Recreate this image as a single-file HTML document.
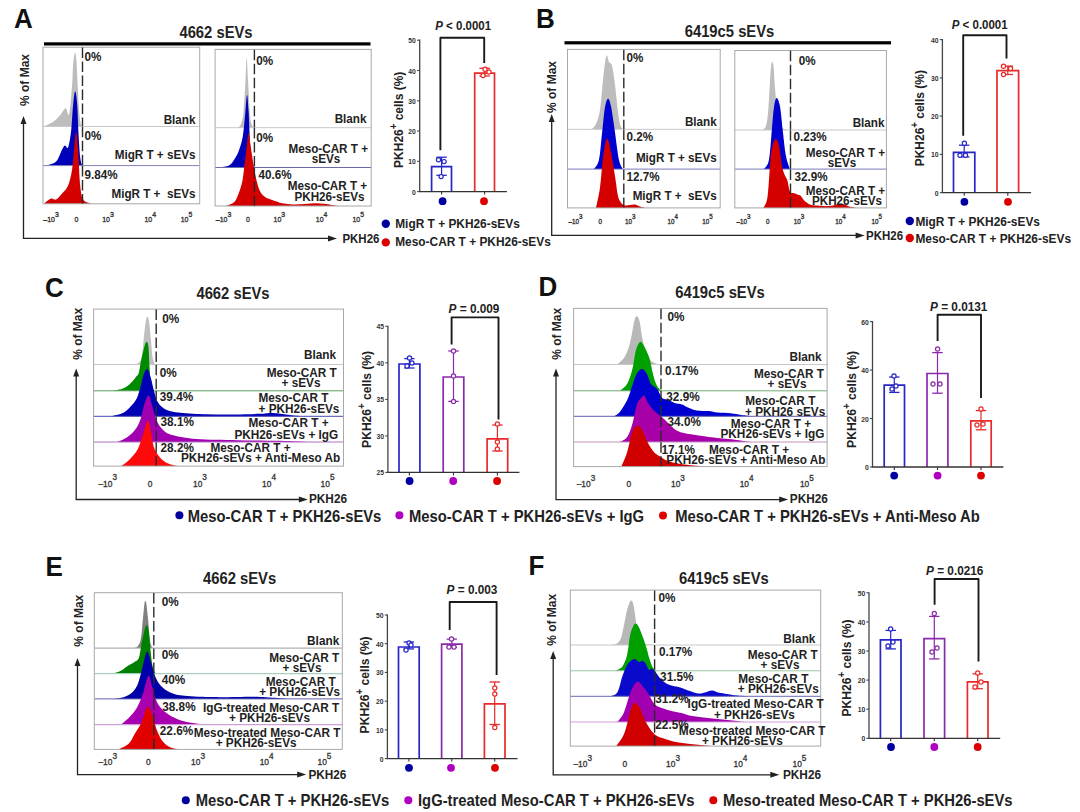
<!DOCTYPE html>
<html><head><meta charset="utf-8"><title>Figure</title>
<style>html,body{margin:0;padding:0;background:#fff;}svg{display:block;}text{font-family:"Liberation Sans", sans-serif;}</style>
</head><body>
<svg width="1080" height="812" viewBox="0 0 1080 812">
<rect width="1080" height="812" fill="#fff"/>
<text transform="translate(14 27.6) scale(1 1.08)" font-size="26" text-anchor="start" font-weight="bold" fill="#111">A</text>
<text transform="translate(536 27.8) scale(1 1.08)" font-size="26" text-anchor="start" font-weight="bold" fill="#111">B</text>
<text transform="translate(45 297.4) scale(1 1.08)" font-size="26" text-anchor="start" font-weight="bold" fill="#111">C</text>
<text transform="translate(538.5 296.4) scale(1 1.08)" font-size="26" text-anchor="start" font-weight="bold" fill="#111">D</text>
<text transform="translate(45.5 575.5) scale(1 1.08)" font-size="26" text-anchor="start" font-weight="bold" fill="#111">E</text>
<text transform="translate(528.5 575.3) scale(1 1.08)" font-size="26" text-anchor="start" font-weight="bold" fill="#111">F</text>
<text transform="translate(216 38.1) scale(1 1.08)" font-size="14.8" text-anchor="middle" font-weight="bold" fill="#222">4662 sEVs</text>
<rect x="44" y="42.3" width="326.5" height="3.2" fill="#000"/>
<text transform="translate(729.5 36.9) scale(1 1.08)" font-size="14.8" text-anchor="middle" font-weight="bold" fill="#222">6419c5 sEVs</text>
<rect x="564.5" y="41.2" width="326.5" height="3.2" fill="#000"/>
<path d="M44,126.5 C45.7,125.6 51.3,123.2 54,121.3 C56.7,119.4 58.1,117.5 60.1,115.3 C62.1,113.1 64.2,108.5 65.7,108.3 C67.2,108.1 68,118.1 69.1,114.3 C70.2,110.5 71.4,93.4 72.1,85.2 C72.8,77 72.6,70.4 73.1,65 C73.6,59.6 74.5,53.1 75.1,52.6 C75.7,52.1 76.1,56.6 76.5,62 C76.9,67.4 77.3,77 77.7,85.2 C78.1,93.4 78.6,105 79.1,111.3 C79.6,117.6 80.1,120.8 80.6,123.3 C81.1,125.8 81.8,126 82,126.5 L82,126.5 L44,126.5 Z" fill="#bdbdbd"/>
<line x1="43" y1="126.5" x2="199.7" y2="126.5" stroke="#c8c8c8" stroke-width="1"/>
<path d="M46,165.6 C47.7,164.9 53.4,164.2 56.1,161.5 C58.8,158.8 60.6,152.1 62.1,149.4 C63.6,146.7 64.1,145.7 65.1,145.4 C66.1,145.1 67.1,149.8 68.1,147.4 C69.1,145.1 70.3,138.3 71.1,131.3 C71.9,124.3 72.4,111.8 73.1,105.2 C73.8,98.6 74.4,91.9 75.1,91.6 C75.8,91.3 76.5,96.2 77.1,103.2 C77.7,110.2 78,124.4 78.5,133.4 C79,142.4 79.6,152 80.2,157.4 C80.8,162.8 81.9,164.2 82.2,165.6 L82.2,165.6 L46,165.6 Z" fill="#0000b8"/>
<line x1="43" y1="165.6" x2="199.7" y2="165.6" stroke="#8080b8" stroke-width="1"/>
<path d="M44,203.8 C45.2,202.9 49,199.3 51,198.6 C53,197.9 54.2,200.4 56.1,199.6 C58,198.8 60.1,195.9 62.1,193.6 C64.1,191.3 66.4,189.6 68.1,185.6 C69.8,181.6 71.1,175.5 72.1,169.5 C73.1,163.5 73.4,155.6 74.1,149.4 C74.8,143.2 75.4,132.3 76.1,132.3 C76.8,132.3 77.4,140.5 78.1,149.4 C78.8,158.3 79.3,177.2 80.2,185.6 C81.1,194 81.5,196.6 83.2,199.6 C84.9,202.6 88.1,202.7 90.2,203.4 C92.3,204.1 95,203.7 96,203.8 L96,203.8 L44,203.8 Z" fill="#d40000"/>
<rect x="43" y="47.2" width="156.7" height="156.6" fill="none" stroke="#a8a8a8" stroke-width="1"/>
<line x1="82.5" y1="47.5" x2="82.5" y2="126.2" stroke="#2a2a2a" stroke-width="1.4" stroke-dasharray="10.5,3.5"/>
<line x1="82.5" y1="126.8" x2="82.5" y2="165.3" stroke="#2a2a2a" stroke-width="1.4" stroke-dasharray="10.5,3.5"/>
<line x1="82.5" y1="165.9" x2="82.5" y2="203.5" stroke="#2a2a2a" stroke-width="1.4" stroke-dasharray="10.5,3.5"/>
<text transform="translate(84.4 60.6) scale(1 1.08)" font-size="11.7" text-anchor="start" font-weight="bold" fill="#222">0%</text>
<text transform="translate(195.5 124.3) scale(1 1.08)" font-size="11.7" text-anchor="end" font-weight="bold" fill="#222">Blank</text>
<text transform="translate(84.4 139.6) scale(1 1.08)" font-size="11.7" text-anchor="start" font-weight="bold" fill="#222">0%</text>
<text transform="translate(195.5 159.4) scale(1 1.08)" font-size="11.7" text-anchor="end" font-weight="bold" fill="#222">MigR T + sEVs</text>
<text transform="translate(84.4 179.1) scale(1 1.08)" font-size="11.7" text-anchor="start" font-weight="bold" fill="#222">9.84%</text>
<text transform="translate(195.5 197.8) scale(1 1.08)" font-size="11.7" text-anchor="end" font-weight="bold" fill="#222">MigR T +&#160; sEVs</text>
<text transform="translate(43.3 221.8) scale(1 1.1)" font-size="7" font-weight="normal" fill="#333" stroke="#333" stroke-width="0.3">&#8211;10<tspan font-size="6.9" dy="-4.6">3</tspan></text>
<text transform="translate(74.4 221.8) scale(1 1.1)" font-size="7" font-weight="normal" fill="#333" stroke="#333" stroke-width="0.3">0</text>
<text transform="translate(102.2 221.8) scale(1 1.1)" font-size="7" font-weight="normal" fill="#333" stroke="#333" stroke-width="0.3">10<tspan font-size="6.9" dy="-4.6">3</tspan></text>
<text transform="translate(144.4 221.8) scale(1 1.1)" font-size="7" font-weight="normal" fill="#333" stroke="#333" stroke-width="0.3">10<tspan font-size="6.9" dy="-4.6">4</tspan></text>
<text transform="translate(180.7 221.8) scale(1 1.1)" font-size="7" font-weight="normal" fill="#333" stroke="#333" stroke-width="0.3">10<tspan font-size="6.9" dy="-4.6">5</tspan></text>
<path d="M238,127.7 C238.5,127.1 240.1,126.6 241,124 C241.9,121.4 242.8,119.3 243.5,112 C244.2,104.7 245,89.1 245.5,80 C246,70.9 246.3,57.5 246.7,57.5 C247.1,57.5 247.4,70.4 248,80 C248.6,89.6 249.3,107.5 250,115 C250.7,122.5 251.2,122.9 252,125 C252.8,127.1 254.5,127.2 255,127.7 L255,127.7 L238,127.7 Z" fill="#bdbdbd"/>
<line x1="215.1" y1="127.7" x2="371.2" y2="127.7" stroke="#c8c8c8" stroke-width="1"/>
<path d="M219.4,167.5 C221.1,167.1 226.7,167 229.4,165.3 C232.1,163.6 233.9,160 235.5,157.5 C237.1,155 237.8,153.7 239,150.3 C240.2,146.9 241.7,142.9 242.7,137 C243.7,131.1 244.4,122 245.1,115 C245.8,108 246.4,95.8 247,95 C247.6,94.2 248,102.5 248.5,110 C249,117.5 249.5,131.7 249.9,140 C250.3,148.3 250.6,155.4 251,160 C251.4,164.6 252.2,166.2 252.5,167.5 L252.5,167.5 L219.4,167.5 Z" fill="#0000b8"/>
<line x1="215.1" y1="167.5" x2="371.2" y2="167.5" stroke="#6a6aa8" stroke-width="1"/>
<path d="M226,206 C227.4,205.3 232.1,204.3 234.3,202 C236.5,199.7 237.6,196.2 239,192.4 C240.4,188.6 241.6,185.4 242.7,179.2 C243.8,173 244.7,162.6 245.7,155 C246.7,147.4 247.7,135.1 248.5,133.4 C249.3,131.7 249.7,139.8 250.5,145 C251.3,150.2 252.4,158.4 253.5,164.7 C254.6,171 255.9,178.2 257.1,182.8 C258.3,187.4 259.3,190 260.7,192.4 C262.1,194.8 263.5,195.9 265.5,197.2 C267.5,198.5 270,199.2 272.8,200.2 C275.6,201.2 279,202.5 282.4,203.2 C285.8,203.9 289.4,204.3 293.2,204.4 C297,204.5 301,204.2 305,204 C309,203.8 313.2,203.1 317.3,203.2 C321.4,203.3 325.9,203.9 329.3,204.4 C332.8,204.9 336.6,205.7 338,206 L338,206 L226,206 Z" fill="#d40000"/>
<rect x="215.1" y="49.4" width="156.1" height="156.6" fill="none" stroke="#a8a8a8" stroke-width="1"/>
<line x1="254.4" y1="49.7" x2="254.4" y2="127.4" stroke="#2a2a2a" stroke-width="1.4" stroke-dasharray="10.5,3.5"/>
<line x1="254.4" y1="128" x2="254.4" y2="167.2" stroke="#2a2a2a" stroke-width="1.4" stroke-dasharray="10.5,3.5"/>
<line x1="254.4" y1="167.8" x2="254.4" y2="205.7" stroke="#2a2a2a" stroke-width="1.4" stroke-dasharray="10.5,3.5"/>
<text transform="translate(256.3 64.5) scale(1 1.08)" font-size="11.7" text-anchor="start" font-weight="bold" fill="#222">0%</text>
<text transform="translate(366.5 122.9) scale(1 1.08)" font-size="11.7" text-anchor="end" font-weight="bold" fill="#222">Blank</text>
<text transform="translate(256.3 141.6) scale(1 1.08)" font-size="11.7" text-anchor="start" font-weight="bold" fill="#222">0%</text>
<text transform="translate(368 153) scale(1 1.08)" font-size="11.7" text-anchor="end" font-weight="bold" fill="#222">Meso-CAR T +</text>
<text transform="translate(326 163) scale(1 1.08)" font-size="11.7" text-anchor="middle" font-weight="bold" fill="#222">sEVs</text>
<text transform="translate(258.6 179.3) scale(1 1.08)" font-size="11.7" text-anchor="start" font-weight="bold" fill="#222">40.6%</text>
<text transform="translate(367.2 190.3) scale(1 1.08)" font-size="11.7" text-anchor="end" font-weight="bold" fill="#222">Meso-CAR T +</text>
<text transform="translate(329.5 200.8) scale(1 1.08)" font-size="11.7" text-anchor="middle" font-weight="bold" fill="#222">PKH26-sEVs</text>
<text transform="translate(215.8 222.2) scale(1 1.1)" font-size="7" font-weight="normal" fill="#333" stroke="#333" stroke-width="0.3">&#8211;10<tspan font-size="6.9" dy="-4.6">3</tspan></text>
<text transform="translate(246 222.2) scale(1 1.1)" font-size="7" font-weight="normal" fill="#333" stroke="#333" stroke-width="0.3">0</text>
<text transform="translate(273.6 222.2) scale(1 1.1)" font-size="7" font-weight="normal" fill="#333" stroke="#333" stroke-width="0.3">10<tspan font-size="6.9" dy="-4.6">3</tspan></text>
<text transform="translate(315.8 222.2) scale(1 1.1)" font-size="7" font-weight="normal" fill="#333" stroke="#333" stroke-width="0.3">10<tspan font-size="6.9" dy="-4.6">4</tspan></text>
<text transform="translate(352.4 222.2) scale(1 1.1)" font-size="7" font-weight="normal" fill="#333" stroke="#333" stroke-width="0.3">10<tspan font-size="6.9" dy="-4.6">5</tspan></text>
<path d="M23.5,122 L23.5,238.4 L330,238.4" fill="none" stroke="#222" stroke-width="1.3"/>
<path d="M20.5,124 L23.5,116 L26.5,124 Z" fill="#222"/>
<path d="M328,235.4 L337,238.4 L328,241.4 Z" fill="#222"/>
<text transform="translate(23.8 80) rotate(-90) translate(0 4.7) scale(1 1.08)" font-size="12" text-anchor="middle" font-weight="bold" fill="#222">% of Max</text>
<text transform="translate(342.4 243) scale(1 1.08)" font-size="11.5" text-anchor="start" font-weight="bold" fill="#222">PKH26</text>
<path d="M591.6,129.3 C592.3,128.4 594.6,127.2 596,124 C597.4,120.8 598.8,117.3 600,110 C601.2,102.7 602,89 603,80 C604,71 605.3,59 606.3,56 C607.3,53 608,60.3 609,62 C610,63.7 611,62.2 612,66 C613,69.8 614,77.3 615,85 C616,92.7 617.2,105.5 618,112 C618.8,118.5 619.2,121.1 620,124 C620.8,126.9 622.1,128.4 622.5,129.3 L622.5,129.3 L591.6,129.3 Z" fill="#bdbdbd"/>
<line x1="567.5" y1="129.3" x2="720.2" y2="129.3" stroke="#c8c8c8" stroke-width="1"/>
<path d="M594,169.1 C594.8,167.5 597.7,165.6 599,159.7 C600.3,153.8 601,142.3 602,133.7 C603,125 603.9,113.6 604.9,107.8 C605.9,102 606.9,99.1 607.9,98.8 C608.9,98.5 609.7,100.3 610.9,105.8 C612.1,111.3 613.6,122.7 614.9,131.7 C616.2,140.7 617.6,153.5 618.9,159.7 C620.2,165.9 622.2,167.5 622.9,169.1 L622.9,169.1 L594,169.1 Z" fill="#0000d0"/>
<line x1="567.5" y1="169.1" x2="720.2" y2="169.1" stroke="#7a7ac0" stroke-width="1"/>
<path d="M596,207.9 C596.7,204.5 598.8,196 600,187.6 C601.2,179.2 601.9,165.8 603,157.7 C604.1,149.5 605.6,139.7 606.9,138.7 C608.2,137.7 609.6,145.5 610.9,151.7 C612.2,157.8 613.7,168.3 614.9,175.6 C616.1,182.9 616.9,191.1 617.9,195.6 C618.9,200.1 619.7,200.8 620.9,202.5 C622.1,204.2 623.4,205.1 624.9,205.5 C626.4,205.9 628.3,205.2 630,205 C631.7,204.8 633.2,204.2 634.9,204.5 C636.6,204.8 638.3,205.9 640,206.5 C641.7,207.1 644.2,207.7 645,207.9 L645,207.9 L596,207.9 Z" fill="#d40000"/>
<rect x="567.5" y="49.4" width="152.7" height="158.5" fill="none" stroke="#a8a8a8" stroke-width="1"/>
<line x1="623.8" y1="49.7" x2="623.8" y2="129" stroke="#2a2a2a" stroke-width="1.4" stroke-dasharray="10.5,3.5"/>
<line x1="623.8" y1="129.6" x2="623.8" y2="168.8" stroke="#2a2a2a" stroke-width="1.4" stroke-dasharray="10.5,3.5"/>
<line x1="623.8" y1="169.4" x2="623.8" y2="207.6" stroke="#2a2a2a" stroke-width="1.4" stroke-dasharray="10.5,3.5"/>
<text transform="translate(626.6 62.1) scale(1 1.08)" font-size="11.7" text-anchor="start" font-weight="bold" fill="#222">0%</text>
<text transform="translate(716.7 126) scale(1 1.08)" font-size="11.7" text-anchor="end" font-weight="bold" fill="#222">Blank</text>
<text transform="translate(626.6 141.2) scale(1 1.08)" font-size="11.7" text-anchor="start" font-weight="bold" fill="#222">0.2%</text>
<text transform="translate(716.7 161.7) scale(1 1.08)" font-size="11.7" text-anchor="end" font-weight="bold" fill="#222">MigR T + sEVs</text>
<text transform="translate(626.6 180.9) scale(1 1.08)" font-size="11.7" text-anchor="start" font-weight="bold" fill="#222">12.7%</text>
<text transform="translate(716.7 199.6) scale(1 1.08)" font-size="11.7" text-anchor="end" font-weight="bold" fill="#222">MigR T +&#160; sEVs</text>
<text transform="translate(568.6 223.6) scale(1 1.1)" font-size="6.3" font-weight="normal" fill="#333" stroke="#333" stroke-width="0.3">&#8211;10<tspan font-size="6.2" dy="-4.2">3</tspan></text>
<text transform="translate(598.5 223.6) scale(1 1.1)" font-size="6.3" font-weight="normal" fill="#333" stroke="#333" stroke-width="0.3">0</text>
<text transform="translate(625 223.6) scale(1 1.1)" font-size="6.3" font-weight="normal" fill="#333" stroke="#333" stroke-width="0.3">10<tspan font-size="6.2" dy="-4.2">3</tspan></text>
<text transform="translate(667.5 223.6) scale(1 1.1)" font-size="6.3" font-weight="normal" fill="#333" stroke="#333" stroke-width="0.3">10<tspan font-size="6.2" dy="-4.2">4</tspan></text>
<text transform="translate(702.2 223.6) scale(1 1.1)" font-size="6.3" font-weight="normal" fill="#333" stroke="#333" stroke-width="0.3">10<tspan font-size="6.2" dy="-4.2">5</tspan></text>
<path d="M762,130 C762.7,129.3 765,129.3 766,126 C767,122.7 767.7,116.8 768.3,110 C768.9,103.2 769.3,92.2 769.8,85 C770.2,77.8 770.6,70.8 771,67 C771.4,63.2 771.6,62.2 772,62 C772.4,61.8 773,61.7 773.5,66 C774,70.3 774.4,80.7 775,88 C775.6,95.3 776.3,104.3 777,110 C777.7,115.7 778.2,119 779,122 C779.8,125 780.5,126.7 782,128 C783.5,129.3 787,129.7 788,130 L788,130 L762,130 Z" fill="#bdbdbd"/>
<line x1="734.8" y1="130" x2="886.4" y2="130" stroke="#c8c8c8" stroke-width="1"/>
<path d="M764,169.1 C764.8,167.5 767.7,166.6 769,159.7 C770.3,152.8 771.2,136.4 772,127.8 C772.8,119.2 773.1,112.8 773.9,107.8 C774.6,102.8 775.5,98.2 776.5,97.9 C777.5,97.6 778.8,100.2 779.9,105.8 C781,111.4 781.9,123.4 782.9,131.7 C783.9,140 784.7,149.5 785.9,155.7 C787.1,161.9 789.2,166.9 789.9,169.1 L789.9,169.1 L764,169.1 Z" fill="#0000d0"/>
<line x1="734.8" y1="169.1" x2="886.4" y2="169.1" stroke="#7a7ac0" stroke-width="1"/>
<path d="M763.4,207.9 C764.1,205.9 766.4,204.8 767.6,196.2 C768.8,187.6 769.7,165.5 770.7,156.4 C771.7,147.3 772.8,144.5 773.8,141.7 C774.8,138.9 775.6,139 776.5,139.7 C777.4,140.4 778.1,141.4 779.1,145.9 C780.1,150.4 781.2,161.8 782.2,166.9 C783.2,172 784.5,174 785.4,176.3 C786.3,178.6 786.6,177.9 787.4,180.5 C788.2,183.1 789,189.9 790.1,192 C791.2,194.1 792.2,192.5 793.7,193 C795.2,193.5 797.8,194.6 799,195.1 C800.2,195.6 800,195.1 801,196.2 C802,197.2 803.5,199.9 805.2,201.4 C807,202.9 809.4,204.4 811.5,205.1 C813.6,205.8 815,205.4 817.8,205.6 C820.6,205.8 824.3,206.4 828.3,206.1 C832.3,205.8 838.4,203.9 841.9,204 C845.4,204.1 846.9,205.9 849.2,206.6 C851.5,207.2 854.5,207.7 855.5,207.9 L855.5,207.9 L763.4,207.9 Z" fill="#d40000"/>
<rect x="734.8" y="50.5" width="151.6" height="157.4" fill="none" stroke="#a8a8a8" stroke-width="1"/>
<line x1="790.5" y1="50.8" x2="790.5" y2="129.7" stroke="#2a2a2a" stroke-width="1.4" stroke-dasharray="10.5,3.5"/>
<line x1="790.5" y1="130.3" x2="790.5" y2="168.8" stroke="#2a2a2a" stroke-width="1.4" stroke-dasharray="10.5,3.5"/>
<line x1="790.5" y1="169.4" x2="790.5" y2="207.6" stroke="#2a2a2a" stroke-width="1.4" stroke-dasharray="10.5,3.5"/>
<text transform="translate(798.7 65.2) scale(1 1.08)" font-size="11.7" text-anchor="start" font-weight="bold" fill="#222">0%</text>
<text transform="translate(884.5 127.1) scale(1 1.08)" font-size="11.7" text-anchor="end" font-weight="bold" fill="#222">Blank</text>
<text transform="translate(793.5 140.7) scale(1 1.08)" font-size="11.7" text-anchor="start" font-weight="bold" fill="#222">0.23%</text>
<text transform="translate(885.2 157.1) scale(1 1.08)" font-size="11.7" text-anchor="end" font-weight="bold" fill="#222">Meso-CAR T +</text>
<text transform="translate(842 166.9) scale(1 1.08)" font-size="11.7" text-anchor="middle" font-weight="bold" fill="#222">sEVs</text>
<text transform="translate(794.5 180.9) scale(1 1.08)" font-size="11.7" text-anchor="start" font-weight="bold" fill="#222">32.9%</text>
<text transform="translate(885.2 195.4) scale(1 1.08)" font-size="11.7" text-anchor="end" font-weight="bold" fill="#222">Meso-CAR T +</text>
<text transform="translate(847 205) scale(1 1.08)" font-size="11.7" text-anchor="middle" font-weight="bold" fill="#222">PKH26-sEVs</text>
<text transform="translate(736.6 223.6) scale(1 1.1)" font-size="6.3" font-weight="normal" fill="#333" stroke="#333" stroke-width="0.3">&#8211;10<tspan font-size="6.2" dy="-4.2">3</tspan></text>
<text transform="translate(766 223.6) scale(1 1.1)" font-size="6.3" font-weight="normal" fill="#333" stroke="#333" stroke-width="0.3">0</text>
<text transform="translate(793.8 223.6) scale(1 1.1)" font-size="6.3" font-weight="normal" fill="#333" stroke="#333" stroke-width="0.3">10<tspan font-size="6.2" dy="-4.2">3</tspan></text>
<text transform="translate(835.2 223.6) scale(1 1.1)" font-size="6.3" font-weight="normal" fill="#333" stroke="#333" stroke-width="0.3">10<tspan font-size="6.2" dy="-4.2">4</tspan></text>
<text transform="translate(871.4 223.6) scale(1 1.1)" font-size="6.3" font-weight="normal" fill="#333" stroke="#333" stroke-width="0.3">10<tspan font-size="6.2" dy="-4.2">5</tspan></text>
<path d="M551.7,120 L551.7,235.4 L857.6,235.4" fill="none" stroke="#222" stroke-width="1.3"/>
<path d="M548.7,122 L551.7,114 L554.7,122 Z" fill="#222"/>
<path d="M855.6,232.4 L864.6,235.4 L855.6,238.4 Z" fill="#222"/>
<text transform="translate(551.7 87) rotate(-90) translate(0 4.7) scale(1 1.08)" font-size="12" text-anchor="middle" font-weight="bold" fill="#222">% of Max</text>
<text transform="translate(866 240.1) scale(1 1.08)" font-size="11.5" text-anchor="start" font-weight="bold" fill="#222">PKH26</text>
<path d="M431.6,191.6 L431.6,166.7 L451.5,166.7 L451.5,191.6" fill="none" stroke="#2626c8" stroke-width="1.7"/>
<line x1="441.6" y1="157.2" x2="441.6" y2="175.3" stroke="#2626c8" stroke-width="1.2"/>
<line x1="436.4" y1="157.2" x2="446.8" y2="157.2" stroke="#2626c8" stroke-width="1.3"/>
<line x1="436.4" y1="175.3" x2="446.8" y2="175.3" stroke="#2626c8" stroke-width="1.3"/>
<circle cx="438.5" cy="159.8" r="2.1" fill="#fff" stroke="#2626c8" stroke-width="1.2"/>
<circle cx="444.1" cy="161.6" r="2.1" fill="#fff" stroke="#2626c8" stroke-width="1.2"/>
<circle cx="441.1" cy="176.6" r="2.1" fill="#fff" stroke="#2626c8" stroke-width="1.2"/>
<line x1="441.6" y1="191.6" x2="441.6" y2="194.6" stroke="#333" stroke-width="1.1"/>
<path d="M474.7,191.6 L474.7,73.1 L494.5,73.1 L494.5,191.6" fill="none" stroke="#e82a2a" stroke-width="1.7"/>
<line x1="484.6" y1="68.3" x2="484.6" y2="76" stroke="#e82a2a" stroke-width="1.2"/>
<line x1="479.4" y1="68.3" x2="489.8" y2="68.3" stroke="#e82a2a" stroke-width="1.3"/>
<line x1="479.4" y1="76" x2="489.8" y2="76" stroke="#e82a2a" stroke-width="1.3"/>
<circle cx="485" cy="69.2" r="2.1" fill="#fff" stroke="#e82a2a" stroke-width="1.2"/>
<circle cx="489" cy="72" r="2.1" fill="#fff" stroke="#e82a2a" stroke-width="1.2"/>
<circle cx="483" cy="75.5" r="2.1" fill="#fff" stroke="#e82a2a" stroke-width="1.2"/>
<line x1="484.6" y1="191.6" x2="484.6" y2="194.6" stroke="#333" stroke-width="1.1"/>
<line x1="419.7" y1="39.6" x2="419.7" y2="191.6" stroke="#444" stroke-width="1.3"/>
<line x1="419.1" y1="191.6" x2="506.9" y2="191.6" stroke="#333" stroke-width="1.3"/>
<line x1="417.1" y1="191.6" x2="419.7" y2="191.6" stroke="#444" stroke-width="1.1"/>
<text transform="translate(415.9 194.6) scale(1 1.08)" font-size="6.8" text-anchor="end" font-weight="bold" fill="#333">0</text>
<line x1="417.1" y1="161.3" x2="419.7" y2="161.3" stroke="#444" stroke-width="1.1"/>
<text transform="translate(415.9 164.3) scale(1 1.08)" font-size="6.8" text-anchor="end" font-weight="bold" fill="#333">10</text>
<line x1="417.1" y1="131" x2="419.7" y2="131" stroke="#444" stroke-width="1.1"/>
<text transform="translate(415.9 134) scale(1 1.08)" font-size="6.8" text-anchor="end" font-weight="bold" fill="#333">20</text>
<line x1="417.1" y1="100.8" x2="419.7" y2="100.8" stroke="#444" stroke-width="1.1"/>
<text transform="translate(415.9 103.8) scale(1 1.08)" font-size="6.8" text-anchor="end" font-weight="bold" fill="#333">30</text>
<line x1="417.1" y1="70.5" x2="419.7" y2="70.5" stroke="#444" stroke-width="1.1"/>
<text transform="translate(415.9 73.5) scale(1 1.08)" font-size="6.8" text-anchor="end" font-weight="bold" fill="#333">40</text>
<line x1="417.1" y1="40.2" x2="419.7" y2="40.2" stroke="#444" stroke-width="1.1"/>
<text transform="translate(415.9 43.2) scale(1 1.08)" font-size="6.8" text-anchor="end" font-weight="bold" fill="#333">50</text>
<circle cx="442.6" cy="201.2" r="3.9" fill="#0000a0" stroke="none" stroke-width="1"/>
<circle cx="484" cy="201.2" r="3.9" fill="#dd0000" stroke="none" stroke-width="1"/>
<path d="M440.4,150.3 L440.4,37.8 L484.2,37.8 L484.2,62.9" fill="none" stroke="#1a1a1a" stroke-width="1.9" stroke-linejoin="round"/>
<text transform="translate(463.2 29.7) scale(1 1.08)" font-size="11.5" text-anchor="middle" font-weight="bold" fill="#222"><tspan font-style="italic">P</tspan> &lt; 0.0001</text>
<text transform="translate(398.5 119.8) rotate(-90) translate(0 4.7) scale(1 1.08)" font-size="12" text-anchor="middle" font-weight="bold" fill="#222">PKH26<tspan font-size="9.6" dy="-5.4">+</tspan><tspan dy="5.4"> cells (%)</tspan></text>
<path d="M953.5,192.7 L953.5,152.3 L974.8,152.3 L974.8,192.7" fill="none" stroke="#2626c8" stroke-width="1.7"/>
<line x1="964.2" y1="145.2" x2="964.2" y2="156.9" stroke="#2626c8" stroke-width="1.2"/>
<line x1="959" y1="145.2" x2="969.4" y2="145.2" stroke="#2626c8" stroke-width="1.3"/>
<line x1="959" y1="156.9" x2="969.4" y2="156.9" stroke="#2626c8" stroke-width="1.3"/>
<circle cx="964.4" cy="143.3" r="2.1" fill="#fff" stroke="#2626c8" stroke-width="1.2"/>
<circle cx="960" cy="155.3" r="2.1" fill="#fff" stroke="#2626c8" stroke-width="1.2"/>
<circle cx="965.5" cy="155.3" r="2.1" fill="#fff" stroke="#2626c8" stroke-width="1.2"/>
<line x1="964.2" y1="192.7" x2="964.2" y2="195.7" stroke="#333" stroke-width="1.1"/>
<path d="M997,192.7 L997,70.6 L1018.6,70.6 L1018.6,192.7" fill="none" stroke="#e82a2a" stroke-width="1.7"/>
<line x1="1007.8" y1="66.1" x2="1007.8" y2="74.5" stroke="#e82a2a" stroke-width="1.2"/>
<line x1="1002.6" y1="66.1" x2="1013" y2="66.1" stroke="#e82a2a" stroke-width="1.3"/>
<line x1="1002.6" y1="74.5" x2="1013" y2="74.5" stroke="#e82a2a" stroke-width="1.3"/>
<circle cx="1003.5" cy="66.2" r="2.1" fill="#fff" stroke="#e82a2a" stroke-width="1.2"/>
<circle cx="1010.5" cy="68.5" r="2.1" fill="#fff" stroke="#e82a2a" stroke-width="1.2"/>
<circle cx="1003.5" cy="74.5" r="2.1" fill="#fff" stroke="#e82a2a" stroke-width="1.2"/>
<line x1="1007.8" y1="192.7" x2="1007.8" y2="195.7" stroke="#333" stroke-width="1.1"/>
<line x1="942.4" y1="39" x2="942.4" y2="192.7" stroke="#444" stroke-width="1.3"/>
<line x1="941.8" y1="192.7" x2="1031.1" y2="192.7" stroke="#333" stroke-width="1.3"/>
<line x1="939.8" y1="192.7" x2="942.4" y2="192.7" stroke="#444" stroke-width="1.1"/>
<text transform="translate(938.6 195.7) scale(1 1.08)" font-size="6.8" text-anchor="end" font-weight="bold" fill="#333">0</text>
<line x1="939.8" y1="154.4" x2="942.4" y2="154.4" stroke="#444" stroke-width="1.1"/>
<text transform="translate(938.6 157.4) scale(1 1.08)" font-size="6.8" text-anchor="end" font-weight="bold" fill="#333">10</text>
<line x1="939.8" y1="116.1" x2="942.4" y2="116.1" stroke="#444" stroke-width="1.1"/>
<text transform="translate(938.6 119.1) scale(1 1.08)" font-size="6.8" text-anchor="end" font-weight="bold" fill="#333">20</text>
<line x1="939.8" y1="77.9" x2="942.4" y2="77.9" stroke="#444" stroke-width="1.1"/>
<text transform="translate(938.6 80.9) scale(1 1.08)" font-size="6.8" text-anchor="end" font-weight="bold" fill="#333">30</text>
<line x1="939.8" y1="39.6" x2="942.4" y2="39.6" stroke="#444" stroke-width="1.1"/>
<text transform="translate(938.6 42.6) scale(1 1.08)" font-size="6.8" text-anchor="end" font-weight="bold" fill="#333">40</text>
<circle cx="964.4" cy="201.8" r="3.9" fill="#0000a0" stroke="none" stroke-width="1"/>
<circle cx="1008" cy="201.8" r="3.9" fill="#dd0000" stroke="none" stroke-width="1"/>
<path d="M963.2,135.8 L963.2,35.2 L1006.5,35.2 L1006.5,58.6" fill="none" stroke="#1a1a1a" stroke-width="1.9" stroke-linejoin="round"/>
<text transform="translate(979.7 28.9) scale(1 1.08)" font-size="11.5" text-anchor="middle" font-weight="bold" fill="#222"><tspan font-style="italic">P</tspan> &lt; 0.0001</text>
<text transform="translate(919 118.2) rotate(-90) translate(0 4.7) scale(1 1.08)" font-size="12" text-anchor="middle" font-weight="bold" fill="#222">PKH26<tspan font-size="9.6" dy="-5.4">+</tspan><tspan dy="5.4"> cells (%)</tspan></text>
<circle cx="385.8" cy="223.8" r="4.2" fill="#0000a0" stroke="none" stroke-width="1"/>
<text transform="translate(395.2 228.3) scale(1 1.08)" font-size="11.9" text-anchor="start" font-weight="bold" fill="#222">MigR T + PKH26-sEVs</text>
<circle cx="385.8" cy="242.4" r="4.2" fill="#dd0000" stroke="none" stroke-width="1"/>
<text transform="translate(395.2 245.9) scale(1 1.08)" font-size="11.9" text-anchor="start" font-weight="bold" fill="#222">Meso-CAR T + PKH26-sEVs</text>
<circle cx="909.8" cy="221" r="4.2" fill="#0000a0" stroke="none" stroke-width="1"/>
<text transform="translate(915.4 225.8) scale(1 1.08)" font-size="11.9" text-anchor="start" font-weight="bold" fill="#222">MigR T + PKH26-sEVs</text>
<circle cx="909.8" cy="238" r="4.2" fill="#dd0000" stroke="none" stroke-width="1"/>
<text transform="translate(915.4 242.8) scale(1 1.08)" font-size="11.9" text-anchor="start" font-weight="bold" fill="#222">Meso-CAR T + PKH26-sEVs</text>
<text transform="translate(233 298.9) scale(1 1.08)" font-size="14.8" text-anchor="middle" font-weight="bold" fill="#222">4662 sEVs</text>
<path d="M134.6,364.5 C135.3,364.2 137.8,363.9 139,362.5 C140.2,361.1 141.2,360.4 142,356 C142.8,351.6 143.3,342 144,336 C144.7,330 145.4,323.2 146,320 C146.6,316.8 146.9,316.6 147.4,316.8 C147.9,317 148.4,317.1 149,321 C149.6,324.9 150.4,334 151,340 C151.6,346 151.8,352.9 152.5,357 C153.2,361.1 154.6,363.2 155,364.5 L155,364.5 L134.6,364.5 Z" fill="#c0c0c0"/>
<line x1="93.6" y1="364.5" x2="343.5" y2="364.5" stroke="#c8c8c8" stroke-width="1"/>
<path d="M113,390.8 C114.8,390.4 120.6,389.6 123.5,388.3 C126.4,387.1 128.6,385.2 130.6,383.3 C132.6,381.4 134.3,378.9 135.7,377.2 C137,375.5 137.7,376.3 138.7,373.1 C139.7,369.9 140.5,362.9 141.7,357.8 C142.9,352.7 144.7,344.6 145.8,342.6 C146.9,340.6 147.7,341.8 148.3,345.7 C148.9,349.6 149.1,359.6 149.5,366 C149.9,372.4 150.4,380.2 150.9,384.3 C151.4,388.4 152.2,389.7 152.5,390.8 L152.5,390.8 L113,390.8 Z" fill="#008a00"/>
<line x1="93.6" y1="390.8" x2="343.5" y2="390.8" stroke="#5aa05a" stroke-width="1"/>
<path d="M111,416.3 C113.1,415.7 120.2,414.3 123.5,412.7 C126.8,411.1 128.4,409 130.6,406.6 C132.8,404.2 135,401.9 136.7,398.5 C138.4,395.1 139.5,390.4 140.7,386.3 C141.9,382.2 142.7,377 143.8,374.1 C144.9,371.2 146.2,368.3 147.4,369 C148.6,369.7 149.8,374.6 150.9,378.2 C152,381.8 152.7,386.3 153.9,390.4 C155.1,394.5 156,399.4 158,402.6 C160,405.8 162.4,408 166.1,409.7 C169.8,411.4 173.6,411.9 180.4,412.7 C187.2,413.5 197.8,414 206.8,414.3 C215.8,414.6 225.5,414.6 234.4,414.5 C243.3,414.4 253.6,414.1 260,413.8 C266.4,413.6 268.3,412.8 273,413 C277.7,413.2 283.2,414.2 288,414.8 C292.8,415.4 299.7,416.1 302,416.3 L302,416.3 L111,416.3 Z" fill="#0000b4"/>
<line x1="93.6" y1="416.3" x2="343.5" y2="416.3" stroke="#4a4ab0" stroke-width="1"/>
<path d="M118,442 C119.6,441.2 124.5,439.3 127.5,437.1 C130.4,434.9 133.5,432.1 135.7,429 C137.9,425.9 139.2,423.2 140.7,418.8 C142.2,414.4 143.4,406.5 144.8,402.6 C146.2,398.7 147.7,395.1 148.9,395.4 C150.1,395.7 150.7,400.7 151.9,404.6 C153.1,408.5 154.3,414.7 156,418.8 C157.7,422.9 159.4,426.3 162.1,429 C164.8,431.7 166.4,433.4 172.2,435.1 C177.9,436.8 185.8,438.2 196.6,439.1 C207.4,440 223.4,439.9 237.3,440.2 C251.2,440.5 268.4,440.5 280,440.8 C291.6,441.1 302.2,441.8 306.7,442 L306.7,442 L118,442 Z" fill="#a000b0"/>
<line x1="93.6" y1="442" x2="343.5" y2="442" stroke="#b070c0" stroke-width="1"/>
<path d="M121.4,466.1 C122.8,465 126.9,462.3 129.6,459.5 C132.3,456.7 135.5,453.4 137.7,449.3 C139.9,445.2 141.5,439.2 142.8,435.1 C144.2,431 144.9,427.3 145.8,424.9 C146.7,422.5 147.5,419.9 148.3,420.9 C149.2,421.9 150,426.6 150.9,431 C151.8,435.4 152.4,442.9 153.9,447.3 C155.4,451.7 157.6,454.7 160,457.4 C162.4,460.1 165.1,462.1 168.2,463.5 C171.2,464.9 176.6,465.7 178.3,466.1 L178.3,466.1 L121.4,466.1 Z" fill="#ff0a0a"/>
<rect x="93.6" y="309.1" width="249.9" height="157" fill="none" stroke="#a8a8a8" stroke-width="1"/>
<line x1="156.2" y1="309.4" x2="156.2" y2="364.2" stroke="#2a2a2a" stroke-width="1.4" stroke-dasharray="10.5,3.5"/>
<line x1="156.2" y1="364.8" x2="156.2" y2="390.5" stroke="#2a2a2a" stroke-width="1.4" stroke-dasharray="10.5,3.5"/>
<line x1="156.2" y1="391.1" x2="156.2" y2="416" stroke="#2a2a2a" stroke-width="1.4" stroke-dasharray="10.5,3.5"/>
<line x1="156.2" y1="416.6" x2="156.2" y2="441.7" stroke="#2a2a2a" stroke-width="1.4" stroke-dasharray="10.5,3.5"/>
<line x1="156.2" y1="442.3" x2="156.2" y2="465.8" stroke="#2a2a2a" stroke-width="1.4" stroke-dasharray="10.5,3.5"/>
<text transform="translate(162.2 322.8) scale(1 1.08)" font-size="11.8" text-anchor="start" font-weight="bold" fill="#222">0%</text>
<text transform="translate(336 359.1) scale(1 1.08)" font-size="11.8" text-anchor="end" font-weight="bold" fill="#222">Blank</text>
<text transform="translate(159.8 377.2) scale(1 1.08)" font-size="11.8" text-anchor="start" font-weight="bold" fill="#222">0%</text>
<text transform="translate(336.7 377.2) scale(1 1.08)" font-size="11.8" text-anchor="end" font-weight="bold" fill="#222">Meso-CAR T</text>
<text transform="translate(301 387.3) scale(1 1.08)" font-size="11.8" text-anchor="middle" font-weight="bold" fill="#222">+ sEVs</text>
<text transform="translate(159.8 401.2) scale(1 1.08)" font-size="11.8" text-anchor="start" font-weight="bold" fill="#222">39.4%</text>
<text transform="translate(258.5 402.2) scale(1 1.08)" font-size="11.8" text-anchor="start" font-weight="bold" fill="#222">Meso-CAR T</text>
<text transform="translate(258.5 412.8) scale(1 1.08)" font-size="11.8" text-anchor="start" font-weight="bold" fill="#222">+ PKH26-sEVs</text>
<text transform="translate(160.5 426.3) scale(1 1.08)" font-size="11.8" text-anchor="start" font-weight="bold" fill="#222">38.1%</text>
<text transform="translate(248.4 427.3) scale(1 1.08)" font-size="11.8" text-anchor="start" font-weight="bold" fill="#222">Meso-CAR T +</text>
<text transform="translate(234.4 438.8) scale(1 1.08)" font-size="11.8" text-anchor="start" font-weight="bold" fill="#222">PKH26-sEVs + IgG</text>
<text transform="translate(160.5 452.3) scale(1 1.08)" font-size="11.8" text-anchor="start" font-weight="bold" fill="#222">28.2%</text>
<text transform="translate(210.4 452.3) scale(1 1.08)" font-size="11.8" text-anchor="start" font-weight="bold" fill="#222">Meso-CAR T +</text>
<text transform="translate(181 462.4) scale(1 1.08)" font-size="11.8" text-anchor="start" font-weight="bold" fill="#222">PKH26-sEVs + Anti-Meso Ab</text>
<text transform="translate(98.4 486.5) scale(1 1.1)" font-size="8.4" font-weight="normal" fill="#333" stroke="#333" stroke-width="0.3">&#8211;10<tspan font-size="8.2" dy="-5.5">3</tspan></text>
<text transform="translate(147.8 486.5) scale(1 1.1)" font-size="8.4" font-weight="normal" fill="#333" stroke="#333" stroke-width="0.3">0</text>
<text transform="translate(193 486.5) scale(1 1.1)" font-size="8.4" font-weight="normal" fill="#333" stroke="#333" stroke-width="0.3">10<tspan font-size="8.2" dy="-5.5">3</tspan></text>
<text transform="translate(262.1 486.5) scale(1 1.1)" font-size="8.4" font-weight="normal" fill="#333" stroke="#333" stroke-width="0.3">10<tspan font-size="8.2" dy="-5.5">4</tspan></text>
<text transform="translate(320.6 486.5) scale(1 1.1)" font-size="8.4" font-weight="normal" fill="#333" stroke="#333" stroke-width="0.3">10<tspan font-size="8.2" dy="-5.5">5</tspan></text>
<path d="M76.2,374.5 L76.2,499.5 L300.9,499.5" fill="none" stroke="#222" stroke-width="1.3"/>
<path d="M73.2,376.5 L76.2,368.5 L79.2,376.5 Z" fill="#222"/>
<path d="M298.9,496.5 L307.9,499.5 L298.9,502.5 Z" fill="#222"/>
<text transform="translate(77 333.8) rotate(-90) translate(0 4.7) scale(1 1.08)" font-size="12" text-anchor="middle" font-weight="bold" fill="#222">% of Max</text>
<text transform="translate(309 503.4) scale(1 1.08)" font-size="11.8" text-anchor="start" font-weight="bold" fill="#222">PKH26</text>
<text transform="translate(720 298.4) scale(1 1.08)" font-size="14.8" text-anchor="middle" font-weight="bold" fill="#222">6419c5 sEVs</text>
<path d="M617,364.5 C618.2,363.4 622.1,360.8 624,358 C625.9,355.2 627.2,351.7 628.5,348 C629.8,344.3 630.5,340.7 631.5,336 C632.5,331.3 633.6,323.3 634.5,320 C635.4,316.7 636,316.1 636.8,316.3 C637.6,316.5 638.6,317.4 639.5,321 C640.4,324.6 641.2,332.8 642.3,338 C643.4,343.2 644.5,348.2 646,352 C647.5,355.8 648.8,358.9 651,361 C653.2,363.1 657.7,363.9 659,364.5 L659,364.5 L617,364.5 Z" fill="#b8b8b8"/>
<line x1="573.6" y1="364.5" x2="827.1" y2="364.5" stroke="#c8c8c8" stroke-width="1"/>
<path d="M619.8,390.8 C621,389.6 625.1,387.4 627.2,383.7 C629.3,380 630.9,374.5 632.4,368.9 C633.9,363.3 634.7,354.5 636,350 C637.3,345.5 638.7,342.6 640,341.9 C641.3,341.2 642.4,343.3 644,346 C645.6,348.7 648,353.7 649.4,358 C650.8,362.3 651.5,368 652.5,372 C653.5,376 654.4,379.5 655.4,382.2 C656.4,384.9 657.4,386.6 658.5,388 C659.6,389.4 661.4,390.3 662,390.8 L662,390.8 L619.8,390.8 Z" fill="#00a000"/>
<line x1="573.6" y1="390.8" x2="827.1" y2="390.8" stroke="#70b070" stroke-width="1"/>
<path d="M613.9,416.3 C614.9,415.6 617.6,414.6 619.8,411.9 C622,409.2 625.1,404.4 627.2,400 C629.3,395.6 630.8,389.6 632.4,385.2 C634,380.8 635.3,376 636.9,373.3 C638.5,370.6 640.4,368.9 642,368.9 C643.6,368.9 645,370.8 646.5,373.3 C648,375.8 649.5,381.5 650.9,383.7 C652.2,385.9 653.5,385.7 654.6,386.7 C655.7,387.7 656.6,388.1 657.6,389.6 C658.6,391.1 659.7,394.1 660.6,395.6 C661.5,397.1 661.4,397.8 662.8,398.5 C664.1,399.2 666.7,399.2 668.7,400 C670.7,400.8 672.4,402.3 674.6,403 C676.8,403.7 679.8,403.7 682,404.4 C684.2,405.1 685.5,406.4 688,407.4 C690.5,408.4 693.4,409.8 696.9,410.4 C700.4,411 705.2,410.7 708.7,411.1 C712.2,411.5 713.9,412.2 717.6,412.6 C721.3,413 727,412.9 730.9,413.3 C734.8,413.7 737.8,414.6 741.3,415.1 C744.8,415.6 750.2,416.1 752,416.3 L752,416.3 L613.9,416.3 Z" fill="#0000d0"/>
<line x1="573.6" y1="416.3" x2="827.1" y2="416.3" stroke="#6060b0" stroke-width="1"/>
<path d="M619.8,442 C621,441.2 625.1,440.1 627.2,437 C629.3,433.9 630.8,429.1 632.4,423.7 C634,418.3 635.5,408.6 636.9,404.4 C638.3,400.2 639.4,400 640.6,398.5 C641.8,397 643.1,394.9 644.3,395.6 C645.5,396.4 646.4,400.5 648,403 C649.6,405.5 651.9,408.3 653.9,410.4 C655.9,412.5 658.1,414.1 659.8,415.6 C661.5,417.1 662.6,417.7 664.3,419.3 C666,420.9 668,423.2 670.2,425.2 C672.4,427.2 675.1,429.8 677.6,431.1 C680.1,432.5 682.3,432.7 685,433.3 C687.7,433.9 689.9,434.2 693.9,434.8 C697.9,435.4 702.5,436.2 708.7,437 C714.9,437.8 724,438.5 730.9,439.3 C737.8,440.1 747,441.6 750.2,442 L750.2,442 L619.8,442 Z" fill="#a800a8"/>
<line x1="573.6" y1="442" x2="827.1" y2="442" stroke="#c090c0" stroke-width="1"/>
<path d="M621.3,466.6 C622.3,464.2 625.5,457.3 627.2,451.9 C628.9,446.5 630.3,438.3 631.7,434.1 C633.1,429.9 634,427.9 635.4,426.7 C636.8,425.5 638.4,425.7 639.8,426.7 C641.1,427.7 642.1,429.9 643.5,432.6 C644.9,435.3 646.3,439.8 648,443 C649.7,446.2 651.9,449.7 653.9,451.9 C655.9,454.1 657.6,454.8 659.8,456.3 C662,457.8 664,459.5 667.2,460.7 C670.4,461.9 674.7,462.9 679.1,463.7 C683.5,464.5 689.5,465 693.9,465.5 C698.3,466 703.7,466.4 705.7,466.6 L705.7,466.6 L621.3,466.6 Z" fill="#d00000"/>
<rect x="573.6" y="308.4" width="253.5" height="158.2" fill="none" stroke="#a8a8a8" stroke-width="1"/>
<line x1="661" y1="308.7" x2="661" y2="364.2" stroke="#2a2a2a" stroke-width="1.4" stroke-dasharray="10.5,3.5"/>
<line x1="661" y1="364.8" x2="661" y2="390.5" stroke="#2a2a2a" stroke-width="1.4" stroke-dasharray="10.5,3.5"/>
<line x1="661" y1="391.1" x2="661" y2="416" stroke="#2a2a2a" stroke-width="1.4" stroke-dasharray="10.5,3.5"/>
<line x1="661" y1="416.6" x2="661" y2="441.7" stroke="#2a2a2a" stroke-width="1.4" stroke-dasharray="10.5,3.5"/>
<line x1="661" y1="442.3" x2="661" y2="466.3" stroke="#2a2a2a" stroke-width="1.4" stroke-dasharray="10.5,3.5"/>
<text transform="translate(667.5 321) scale(1 1.08)" font-size="11.8" text-anchor="start" font-weight="bold" fill="#222">0%</text>
<text transform="translate(821.6 360.8) scale(1 1.08)" font-size="11.8" text-anchor="end" font-weight="bold" fill="#222">Blank</text>
<text transform="translate(665.1 375.2) scale(1 1.08)" font-size="11.8" text-anchor="start" font-weight="bold" fill="#222">0.17%</text>
<text transform="translate(824 378.1) scale(1 1.08)" font-size="11.8" text-anchor="end" font-weight="bold" fill="#222">Meso-CAR T</text>
<text transform="translate(787 388.3) scale(1 1.08)" font-size="11.8" text-anchor="middle" font-weight="bold" fill="#222">+ sEVs</text>
<text transform="translate(666.3 401.2) scale(1 1.08)" font-size="11.8" text-anchor="start" font-weight="bold" fill="#222">32.9%</text>
<text transform="translate(745.3 404.6) scale(1 1.08)" font-size="11.8" text-anchor="start" font-weight="bold" fill="#222">Meso-CAR T</text>
<text transform="translate(745 415.9) scale(1 1.08)" font-size="11.8" text-anchor="start" font-weight="bold" fill="#222">+ PKH26 sEVs</text>
<text transform="translate(667.5 426.3) scale(1 1.08)" font-size="11.8" text-anchor="start" font-weight="bold" fill="#222">34.0%</text>
<text transform="translate(730.8 428.2) scale(1 1.08)" font-size="11.8" text-anchor="start" font-weight="bold" fill="#222">Meso-CAR T +</text>
<text transform="translate(720.5 438.3) scale(1 1.08)" font-size="11.8" text-anchor="start" font-weight="bold" fill="#222">PKH26-sEVs + IgG</text>
<text transform="translate(661.5 453.5) scale(1 1.08)" font-size="11.8" text-anchor="start" font-weight="bold" fill="#222">17.1%</text>
<text transform="translate(709 453.5) scale(1 1.08)" font-size="11.8" text-anchor="start" font-weight="bold" fill="#222">Meso-CAR T +</text>
<text transform="translate(666.3 464.3) scale(1 1.08)" font-size="11.8" text-anchor="start" font-weight="bold" fill="#222">PKH26-sEVs + Anti-Meso Ab</text>
<text transform="translate(576.7 487) scale(1 1.1)" font-size="8.4" font-weight="normal" fill="#333" stroke="#333" stroke-width="0.3">&#8211;10<tspan font-size="8.2" dy="-5.5">3</tspan></text>
<text transform="translate(626.5 487) scale(1 1.1)" font-size="8.4" font-weight="normal" fill="#333" stroke="#333" stroke-width="0.3">0</text>
<text transform="translate(671 487) scale(1 1.1)" font-size="8.4" font-weight="normal" fill="#333" stroke="#333" stroke-width="0.3">10<tspan font-size="8.2" dy="-5.5">3</tspan></text>
<text transform="translate(739.7 487) scale(1 1.1)" font-size="8.4" font-weight="normal" fill="#333" stroke="#333" stroke-width="0.3">10<tspan font-size="8.2" dy="-5.5">4</tspan></text>
<text transform="translate(799.9 487) scale(1 1.1)" font-size="8.4" font-weight="normal" fill="#333" stroke="#333" stroke-width="0.3">10<tspan font-size="8.2" dy="-5.5">5</tspan></text>
<path d="M556,374.5 L556,499.6 L781.2,499.6" fill="none" stroke="#222" stroke-width="1.3"/>
<path d="M553,376.5 L556,368.5 L559,376.5 Z" fill="#222"/>
<path d="M779.2,496.6 L788.2,499.6 L779.2,502.6 Z" fill="#222"/>
<text transform="translate(556 333.8) rotate(-90) translate(0 4.7) scale(1 1.08)" font-size="12" text-anchor="middle" font-weight="bold" fill="#222">% of Max</text>
<text transform="translate(789.8 503.3) scale(1 1.08)" font-size="11.8" text-anchor="start" font-weight="bold" fill="#222">PKH26</text>
<text transform="translate(239.6 584.1) scale(1 1.08)" font-size="14.8" text-anchor="middle" font-weight="bold" fill="#222">4662 sEVs</text>
<path d="M133.9,648.1 C134.6,647.8 136.8,647.7 138,646 C139.2,644.3 140.2,642.7 141,638 C141.8,633.3 142.4,623.7 143,618 C143.6,612.3 144,606.8 144.4,604 C144.8,601.2 145,601 145.3,601 C145.6,601 146,601.2 146.4,604 C146.8,606.8 147.5,612.7 148,618 C148.5,623.3 149,631.5 149.5,636 C150,640.5 150.4,643 151,645 C151.6,647 152.7,647.6 153,648.1 L153,648.1 L133.9,648.1 Z" fill="#808080"/>
<line x1="94.3" y1="648.1" x2="342.3" y2="648.1" stroke="#b0b0b0" stroke-width="1.4"/>
<path d="M113,673.6 C114.3,673.1 118.4,672.1 120.9,670.8 C123.4,669.5 125.6,667.3 127.9,665.8 C130.2,664.3 133.1,663.1 134.9,661.8 C136.7,660.5 137.7,661.1 138.9,657.8 C140.1,654.5 140.7,647.2 141.9,641.9 C143.1,636.6 144.8,627.9 145.9,625.9 C147,623.9 147.7,625.2 148.5,629.9 C149.3,634.5 150.2,647.5 150.9,653.8 C151.6,660.1 152.1,664.5 152.9,667.8 C153.7,671.1 155.3,672.6 155.8,673.6 L155.8,673.6 L113,673.6 Z" fill="#008000"/>
<line x1="94.3" y1="673.6" x2="342.3" y2="673.6" stroke="#a8d0c0" stroke-width="1.2"/>
<path d="M115,698.9 C116.7,698.5 121.9,697.9 124.9,696.7 C127.9,695.5 130.7,693.9 132.9,691.7 C135.1,689.6 136.4,687.4 137.9,683.8 C139.4,680.1 140.4,675.1 141.9,669.8 C143.4,664.5 145.4,653.1 146.9,651.8 C148.4,650.5 149.6,657.8 150.9,661.8 C152.2,665.8 153.2,671.8 154.9,675.8 C156.6,679.8 158.2,683 160.8,685.8 C163.5,688.6 166.8,691.1 170.8,692.7 C174.8,694.4 177.5,695 184.8,695.7 C192.1,696.4 203.1,696.9 214.7,697.1 C226.3,697.3 245.4,696.6 254.6,696.7 C263.8,696.8 264.5,697.2 270,697.6 C275.5,698 284.5,698.7 287.4,698.9 L287.4,698.9 L115,698.9 Z" fill="#0000a8"/>
<line x1="94.3" y1="698.9" x2="342.3" y2="698.9" stroke="#6060b0" stroke-width="1"/>
<path d="M120.9,724.6 C122.2,723.5 126.2,720.5 128.9,717.7 C131.6,714.9 134.6,711.7 136.9,707.7 C139.2,703.7 141,699 142.9,693.7 C144.8,688.4 147,677.1 148.5,675.8 C150,674.5 150.5,681.5 151.9,685.8 C153.3,690.1 154.7,697.4 156.8,701.7 C159,706 161.1,708.7 164.8,711.7 C168.5,714.7 173.8,717.8 178.8,719.7 C183.8,721.6 190,722.5 194.7,723.3 C199.3,724.1 204.7,724.4 206.7,724.6 L206.7,724.6 L120.9,724.6 Z" fill="#a800b0"/>
<line x1="94.3" y1="724.6" x2="342.3" y2="724.6" stroke="#d0a0d8" stroke-width="1.2"/>
<path d="M118.9,749.4 C120.6,748.4 126.2,746.2 128.9,743.6 C131.6,741 132.7,737.2 134.9,733.6 C137.1,730 140.2,725.4 141.9,721.7 C143.6,718.1 143.9,714.2 144.9,711.7 C145.9,709.2 146.7,706.4 147.9,706.7 C149.1,707 150.4,709.9 151.9,713.7 C153.4,717.5 155,725.1 156.8,729.7 C158.6,734.4 160.5,738.6 162.8,741.6 C165.1,744.6 168.1,746.3 170.8,747.6 C173.5,748.9 177.5,749.1 178.8,749.4 L178.8,749.4 L118.9,749.4 Z" fill="#e00000"/>
<rect x="94.3" y="592.7" width="248" height="156.7" fill="none" stroke="#a8a8a8" stroke-width="1"/>
<line x1="153.8" y1="593" x2="153.8" y2="647.8" stroke="#2a2a2a" stroke-width="1.4" stroke-dasharray="10.5,3.5"/>
<line x1="153.8" y1="648.4" x2="153.8" y2="673.3" stroke="#2a2a2a" stroke-width="1.4" stroke-dasharray="10.5,3.5"/>
<line x1="153.8" y1="673.9" x2="153.8" y2="698.6" stroke="#2a2a2a" stroke-width="1.4" stroke-dasharray="10.5,3.5"/>
<line x1="153.8" y1="699.2" x2="153.8" y2="724.3" stroke="#2a2a2a" stroke-width="1.4" stroke-dasharray="10.5,3.5"/>
<line x1="153.8" y1="724.9" x2="153.8" y2="749.1" stroke="#2a2a2a" stroke-width="1.4" stroke-dasharray="10.5,3.5"/>
<text transform="translate(161.7 606.1) scale(1 1.08)" font-size="11.8" text-anchor="start" font-weight="bold" fill="#222">0%</text>
<text transform="translate(339.2 644.6) scale(1 1.08)" font-size="11.8" text-anchor="end" font-weight="bold" fill="#222">Blank</text>
<text transform="translate(161.7 659) scale(1 1.08)" font-size="11.8" text-anchor="start" font-weight="bold" fill="#222">0%</text>
<text transform="translate(339.2 662.2) scale(1 1.08)" font-size="11.8" text-anchor="end" font-weight="bold" fill="#222">Meso-CAR T</text>
<text transform="translate(302 671.8) scale(1 1.08)" font-size="11.8" text-anchor="middle" font-weight="bold" fill="#222">+ sEVs</text>
<text transform="translate(161.7 684.3) scale(1 1.08)" font-size="11.8" text-anchor="start" font-weight="bold" fill="#222">40%</text>
<text transform="translate(265.7 686.2) scale(1 1.08)" font-size="11.8" text-anchor="start" font-weight="bold" fill="#222">Meso-CAR T</text>
<text transform="translate(259.2 696.3) scale(1 1.08)" font-size="11.8" text-anchor="start" font-weight="bold" fill="#222">+ PKH26-sEVs</text>
<text transform="translate(162.2 710.8) scale(1 1.08)" font-size="11.8" text-anchor="start" font-weight="bold" fill="#222">38.8%</text>
<text transform="translate(339.2 712) scale(1 1.08)" font-size="11.8" text-anchor="end" font-weight="bold" fill="#222">IgG-treated Meso-CAR T</text>
<text transform="translate(229.1 721.6) scale(1 1.08)" font-size="11.8" text-anchor="start" font-weight="bold" fill="#222">+ PKH26-sEVs</text>
<text transform="translate(159.8 734.9) scale(1 1.08)" font-size="11.8" text-anchor="start" font-weight="bold" fill="#222">22.6%</text>
<text transform="translate(340.4 736.8) scale(1 1.08)" font-size="11.8" text-anchor="end" font-weight="bold" fill="#222">Meso-treated Meso-CAR T</text>
<text transform="translate(215.7 746.7) scale(1 1.08)" font-size="11.8" text-anchor="start" font-weight="bold" fill="#222">+ PKH26-sEVs</text>
<text transform="translate(98.4 765.1) scale(1 1.1)" font-size="8.4" font-weight="normal" fill="#333" stroke="#333" stroke-width="0.3">&#8211;10<tspan font-size="8.2" dy="-5.5">3</tspan></text>
<text transform="translate(146 765.1) scale(1 1.1)" font-size="8.4" font-weight="normal" fill="#333" stroke="#333" stroke-width="0.3">0</text>
<text transform="translate(191.1 765.1) scale(1 1.1)" font-size="8.4" font-weight="normal" fill="#333" stroke="#333" stroke-width="0.3">10<tspan font-size="8.2" dy="-5.5">3</tspan></text>
<text transform="translate(259.7 765.1) scale(1 1.1)" font-size="8.4" font-weight="normal" fill="#333" stroke="#333" stroke-width="0.3">10<tspan font-size="8.2" dy="-5.5">4</tspan></text>
<text transform="translate(317.5 765.1) scale(1 1.1)" font-size="8.4" font-weight="normal" fill="#333" stroke="#333" stroke-width="0.3">10<tspan font-size="8.2" dy="-5.5">5</tspan></text>
<path d="M77.5,664 L77.5,774.6 L299.2,774.6" fill="none" stroke="#222" stroke-width="1.3"/>
<path d="M74.5,666 L77.5,658 L80.5,666 Z" fill="#222"/>
<path d="M297.2,771.6 L306.2,774.6 L297.2,777.6 Z" fill="#222"/>
<text transform="translate(78.1 620.7) rotate(-90) translate(0 4.7) scale(1 1.08)" font-size="12" text-anchor="middle" font-weight="bold" fill="#222">% of Max</text>
<text transform="translate(308.4 778.5) scale(1 1.08)" font-size="11.8" text-anchor="start" font-weight="bold" fill="#222">PKH26</text>
<text transform="translate(723.9 584.1) scale(1 1.08)" font-size="14.8" text-anchor="middle" font-weight="bold" fill="#222">6419c5 sEVs</text>
<path d="M611,645 C612,644.8 615.3,644.7 617,643.5 C618.7,642.3 619.8,641.1 621,638 C622.2,634.9 623,629.7 624,625 C625,620.3 626,614 627.1,610 C628.2,606 629.6,601.6 630.7,600.8 C631.8,600 632.5,601 633.5,605 C634.5,609 635.6,619.1 636.5,625 C637.4,630.9 637.9,637.1 639,640.2 C640.1,643.3 641.4,642.8 643,643.5 C644.6,644.2 646.8,644.1 648.8,644.4 C650.8,644.6 653.7,644.9 654.7,645 L654.7,645 L611,645 Z" fill="#b8b8b8"/>
<line x1="570.3" y1="645" x2="820.7" y2="645" stroke="#c8c8c8" stroke-width="1"/>
<path d="M615.3,670.8 C616.4,670.1 620.2,669.4 622.2,666.8 C624.2,664.2 625.8,660.2 627.1,655 C628.4,649.8 629.1,640 630.1,635.3 C631.1,630.5 632.2,628.5 633.1,626.5 C634,624.5 634.6,623.4 635.6,623.5 C636.6,623.6 637.8,625.1 639,627.4 C640.2,629.7 641.6,633.7 642.9,637.3 C644.2,640.9 645.6,645.3 646.8,649.1 C647.9,652.9 648.6,656.7 649.8,660 C650.9,663.3 652.2,667 653.7,668.8 C655.2,670.6 657.9,670.5 658.7,670.8 L658.7,670.8 L615.3,670.8 Z" fill="#00a000"/>
<line x1="570.3" y1="670.8" x2="820.7" y2="670.8" stroke="#a0c8a0" stroke-width="1"/>
<path d="M609.4,696.3 C610.7,695.7 615.2,695.8 617.3,692.5 C619.4,689.2 620.6,681.3 622.2,676.7 C623.8,672.1 625.5,667.7 627.1,664.9 C628.8,662.1 630.8,661 632.1,660 C633.4,659 633.9,658.7 635,659 C636.1,659.3 637.7,661.6 639,661.9 C640.3,662.2 641.8,660.6 642.9,660.9 C644,661.2 644.9,662.4 645.9,663.9 C646.9,665.4 647.8,669 648.8,669.8 C649.8,670.5 650.8,668.2 651.8,668.4 C652.8,668.6 653.2,669.1 654.7,670.8 C656.2,672.5 658.3,676.4 660.6,678.7 C662.9,681 665.2,683.1 668.5,684.6 C671.8,686.1 677,686.5 680.3,687.5 C683.6,688.5 685.2,689.5 688.2,690.5 C691.2,691.5 695.3,693.1 698.1,693.4 C700.9,693.7 702.7,693 705,692.5 C707.3,692 709.7,690.5 711.9,690.5 C714.1,690.5 716,692 718,692.5 C720,693 720.4,692.9 723.7,693.4 C727,693.9 733,695 737.9,695.5 C742.8,696 750.3,696.2 752.8,696.3 L752.8,696.3 L609.4,696.3 Z" fill="#0a0acc"/>
<line x1="570.3" y1="696.3" x2="820.7" y2="696.3" stroke="#6a6ab8" stroke-width="1"/>
<path d="M617.3,722 C618.3,720.7 621.2,718.4 623.2,714.1 C625.2,709.8 627.5,701 629.1,696.4 C630.8,691.8 631.6,689.1 633.1,686.6 C634.6,684.1 636.4,681.6 638,681.6 C639.6,681.6 641.1,684.5 642.9,686.6 C644.7,688.7 646.8,691.5 648.8,694.4 C650.8,697.3 652.4,702 654.7,704.3 C657,706.6 659.6,707.1 662.6,708.2 C665.6,709.4 669.2,710.4 672.5,711.2 C675.8,712 679,712.4 682.3,713.2 C685.6,714 687.9,715.3 692.2,716.1 C696.5,716.9 702,717.5 707.9,718.1 C713.8,718.8 721.4,719.4 727.6,720 C733.8,720.6 742.1,721.7 745,722 L745,722 L617.3,722 Z" fill="#a000b0"/>
<line x1="570.3" y1="722" x2="820.7" y2="722" stroke="#d0a0d8" stroke-width="1"/>
<path d="M616.3,746.1 C617.4,744.4 621.4,739.5 623.2,735.8 C625,732.1 625.8,728.6 627.1,724 C628.4,719.4 629.8,711.8 631.1,708.2 C632.4,704.7 633.5,702.7 635,702.7 C636.5,702.7 638.4,705.3 640,708.2 C641.6,711.1 643.1,716.4 644.9,720 C646.7,723.6 648.8,727.3 650.8,729.9 C652.8,732.5 654.4,734.3 656.7,735.8 C659,737.3 661.7,737.8 664.6,738.8 C667.5,739.8 670.5,740.9 674.4,741.7 C678.3,742.5 682.6,743 688.2,743.7 C693.8,744.4 702.6,745.3 707.9,745.7 C713.2,746.1 718,746 720,746.1 L720,746.1 L616.3,746.1 Z" fill="#d00000"/>
<rect x="570.3" y="590.1" width="250.4" height="156" fill="none" stroke="#a8a8a8" stroke-width="1"/>
<line x1="654.6" y1="590.4" x2="654.6" y2="644.7" stroke="#2a2a2a" stroke-width="1.4" stroke-dasharray="10.5,3.5"/>
<line x1="654.6" y1="645.3" x2="654.6" y2="670.5" stroke="#2a2a2a" stroke-width="1.4" stroke-dasharray="10.5,3.5"/>
<line x1="654.6" y1="671.1" x2="654.6" y2="696" stroke="#2a2a2a" stroke-width="1.4" stroke-dasharray="10.5,3.5"/>
<line x1="654.6" y1="696.6" x2="654.6" y2="721.7" stroke="#2a2a2a" stroke-width="1.4" stroke-dasharray="10.5,3.5"/>
<line x1="654.6" y1="722.3" x2="654.6" y2="745.8" stroke="#2a2a2a" stroke-width="1.4" stroke-dasharray="10.5,3.5"/>
<text transform="translate(658.4 602.3) scale(1 1.08)" font-size="11.8" text-anchor="start" font-weight="bold" fill="#222">0%</text>
<text transform="translate(815.4 642.7) scale(1 1.08)" font-size="11.8" text-anchor="end" font-weight="bold" fill="#222">Blank</text>
<text transform="translate(658.9 656.4) scale(1 1.08)" font-size="11.8" text-anchor="start" font-weight="bold" fill="#222">0.17%</text>
<text transform="translate(817.8 658.8) scale(1 1.08)" font-size="11.8" text-anchor="end" font-weight="bold" fill="#222">Meso-CAR T</text>
<text transform="translate(780 668.7) scale(1 1.08)" font-size="11.8" text-anchor="middle" font-weight="bold" fill="#222">+ sEVs</text>
<text transform="translate(660.1 681.2) scale(1 1.08)" font-size="11.8" text-anchor="start" font-weight="bold" fill="#222">31.5%</text>
<text transform="translate(738.3 682.9) scale(1 1.08)" font-size="11.8" text-anchor="start" font-weight="bold" fill="#222">Meso-CAR T</text>
<text transform="translate(737.8 692.6) scale(1 1.08)" font-size="11.8" text-anchor="start" font-weight="bold" fill="#222">+ PKH26-sEVs</text>
<text transform="translate(655.3 703.4) scale(1 1.08)" font-size="11.8" text-anchor="start" font-weight="bold" fill="#222">31.2%</text>
<text transform="translate(823.8 708.2) scale(1 1.08)" font-size="11.8" text-anchor="end" font-weight="bold" fill="#222">IgG-treated Meso-CAR T</text>
<text transform="translate(713.9 718.5) scale(1 1.08)" font-size="11.8" text-anchor="start" font-weight="bold" fill="#222">+ PKH26-sEVs</text>
<text transform="translate(655.3 729.4) scale(1 1.08)" font-size="11.8" text-anchor="start" font-weight="bold" fill="#222">22.5%</text>
<text transform="translate(825.5 734.9) scale(1 1.08)" font-size="11.8" text-anchor="end" font-weight="bold" fill="#222">Meso-treated Meso-CAR T</text>
<text transform="translate(701.9 744.5) scale(1 1.08)" font-size="11.8" text-anchor="start" font-weight="bold" fill="#222">+ PKH26-sEVs</text>
<text transform="translate(573.4 766.6) scale(1 1.1)" font-size="8.4" font-weight="normal" fill="#333" stroke="#333" stroke-width="0.3">&#8211;10<tspan font-size="8.2" dy="-5.5">3</tspan></text>
<text transform="translate(622.5 766.6) scale(1 1.1)" font-size="8.4" font-weight="normal" fill="#333" stroke="#333" stroke-width="0.3">0</text>
<text transform="translate(666.1 766.6) scale(1 1.1)" font-size="8.4" font-weight="normal" fill="#333" stroke="#333" stroke-width="0.3">10<tspan font-size="8.2" dy="-5.5">3</tspan></text>
<text transform="translate(733.5 766.6) scale(1 1.1)" font-size="8.4" font-weight="normal" fill="#333" stroke="#333" stroke-width="0.3">10<tspan font-size="8.2" dy="-5.5">4</tspan></text>
<text transform="translate(792.5 766.6) scale(1 1.1)" font-size="8.4" font-weight="normal" fill="#333" stroke="#333" stroke-width="0.3">10<tspan font-size="8.2" dy="-5.5">5</tspan></text>
<path d="M553.2,657 L553.2,774.8 L772.3,774.8" fill="none" stroke="#222" stroke-width="1.3"/>
<path d="M550.2,659 L553.2,651 L556.2,659 Z" fill="#222"/>
<path d="M770.3,771.8 L779.3,774.8 L770.3,777.8 Z" fill="#222"/>
<text transform="translate(551.7 619.8) rotate(-90) translate(0 4.7) scale(1 1.08)" font-size="12" text-anchor="middle" font-weight="bold" fill="#222">% of Max</text>
<text transform="translate(783 778.7) scale(1 1.08)" font-size="11.8" text-anchor="start" font-weight="bold" fill="#222">PKH26</text>
<path d="M399,472.4 L399,364 L419.9,364 L419.9,472.4" fill="none" stroke="#2626c8" stroke-width="1.7"/>
<line x1="409.4" y1="358.6" x2="409.4" y2="368" stroke="#2626c8" stroke-width="1.2"/>
<line x1="404.2" y1="358.6" x2="414.6" y2="358.6" stroke="#2626c8" stroke-width="1.3"/>
<line x1="404.2" y1="368" x2="414.6" y2="368" stroke="#2626c8" stroke-width="1.3"/>
<circle cx="409.5" cy="358" r="2.1" fill="#fff" stroke="#2626c8" stroke-width="1.2"/>
<circle cx="412" cy="363" r="2.1" fill="#fff" stroke="#2626c8" stroke-width="1.2"/>
<circle cx="407" cy="366" r="2.1" fill="#fff" stroke="#2626c8" stroke-width="1.2"/>
<line x1="409.4" y1="472.4" x2="409.4" y2="475.4" stroke="#333" stroke-width="1.1"/>
<path d="M443.2,472.4 L443.2,377 L463.8,377 L463.8,472.4" fill="none" stroke="#8a2aaa" stroke-width="1.7"/>
<line x1="453.5" y1="351" x2="453.5" y2="401.4" stroke="#8a2aaa" stroke-width="1.2"/>
<line x1="448.3" y1="351" x2="458.7" y2="351" stroke="#8a2aaa" stroke-width="1.3"/>
<line x1="448.3" y1="401.4" x2="458.7" y2="401.4" stroke="#8a2aaa" stroke-width="1.3"/>
<circle cx="453.5" cy="351" r="2.1" fill="#fff" stroke="#8a2aaa" stroke-width="1.2"/>
<circle cx="453.5" cy="376" r="2.1" fill="#fff" stroke="#8a2aaa" stroke-width="1.2"/>
<circle cx="453.5" cy="401.4" r="2.1" fill="#fff" stroke="#8a2aaa" stroke-width="1.2"/>
<line x1="453.5" y1="472.4" x2="453.5" y2="475.4" stroke="#333" stroke-width="1.1"/>
<path d="M487.1,472.4 L487.1,438.8 L507.7,438.8 L507.7,472.4" fill="none" stroke="#e82a2a" stroke-width="1.7"/>
<line x1="497.4" y1="425" x2="497.4" y2="451" stroke="#e82a2a" stroke-width="1.2"/>
<line x1="492.2" y1="425" x2="502.6" y2="425" stroke="#e82a2a" stroke-width="1.3"/>
<line x1="492.2" y1="451" x2="502.6" y2="451" stroke="#e82a2a" stroke-width="1.3"/>
<circle cx="497.4" cy="424" r="2.1" fill="#fff" stroke="#e82a2a" stroke-width="1.2"/>
<circle cx="497.4" cy="442" r="2.1" fill="#fff" stroke="#e82a2a" stroke-width="1.2"/>
<circle cx="497.4" cy="449" r="2.1" fill="#fff" stroke="#e82a2a" stroke-width="1.2"/>
<line x1="497.4" y1="472.4" x2="497.4" y2="475.4" stroke="#333" stroke-width="1.1"/>
<line x1="387.9" y1="325.7" x2="387.9" y2="472.4" stroke="#444" stroke-width="1.3"/>
<line x1="387.3" y1="472.4" x2="519.4" y2="472.4" stroke="#333" stroke-width="1.3"/>
<line x1="385.3" y1="472.4" x2="387.9" y2="472.4" stroke="#444" stroke-width="1.1"/>
<text transform="translate(384.1 475.4) scale(1 1.08)" font-size="6.8" text-anchor="end" font-weight="bold" fill="#333">25</text>
<line x1="385.3" y1="435.9" x2="387.9" y2="435.9" stroke="#444" stroke-width="1.1"/>
<text transform="translate(384.1 438.9) scale(1 1.08)" font-size="6.8" text-anchor="end" font-weight="bold" fill="#333">30</text>
<line x1="385.3" y1="399.4" x2="387.9" y2="399.4" stroke="#444" stroke-width="1.1"/>
<text transform="translate(384.1 402.4) scale(1 1.08)" font-size="6.8" text-anchor="end" font-weight="bold" fill="#333">35</text>
<line x1="385.3" y1="362.8" x2="387.9" y2="362.8" stroke="#444" stroke-width="1.1"/>
<text transform="translate(384.1 365.8) scale(1 1.08)" font-size="6.8" text-anchor="end" font-weight="bold" fill="#333">40</text>
<line x1="385.3" y1="326.3" x2="387.9" y2="326.3" stroke="#444" stroke-width="1.1"/>
<text transform="translate(384.1 329.3) scale(1 1.08)" font-size="6.8" text-anchor="end" font-weight="bold" fill="#333">45</text>
<circle cx="409.6" cy="481" r="3.9" fill="#0000a0" stroke="none" stroke-width="1"/>
<circle cx="453.2" cy="481" r="3.9" fill="#b000c0" stroke="none" stroke-width="1"/>
<circle cx="497.1" cy="481" r="3.9" fill="#dd0000" stroke="none" stroke-width="1"/>
<path d="M451.6,344.5 L451.6,317.4 L498.5,317.4 L498.5,419.5" fill="none" stroke="#1a1a1a" stroke-width="1.9" stroke-linejoin="round"/>
<text transform="translate(474 312.6) scale(1 1.08)" font-size="11.8" text-anchor="middle" font-weight="bold" fill="#222"><tspan font-style="italic">P</tspan> = 0.009</text>
<text transform="translate(366.5 399.4) rotate(-90) translate(0 4.7) scale(1 1.08)" font-size="12.1" text-anchor="middle" font-weight="bold" fill="#222">PKH26<tspan font-size="9.7" dy="-5.4">+</tspan><tspan dy="5.4"> cells (%)</tspan></text>
<path d="M884.2,467 L884.2,385.1 L904.5,385.1 L904.5,467" fill="none" stroke="#2626c8" stroke-width="1.7"/>
<line x1="894.3" y1="377" x2="894.3" y2="392.4" stroke="#2626c8" stroke-width="1.2"/>
<line x1="889.1" y1="377" x2="899.5" y2="377" stroke="#2626c8" stroke-width="1.3"/>
<line x1="889.1" y1="392.4" x2="899.5" y2="392.4" stroke="#2626c8" stroke-width="1.3"/>
<circle cx="894" cy="376" r="2.1" fill="#fff" stroke="#2626c8" stroke-width="1.2"/>
<circle cx="896" cy="386" r="2.1" fill="#fff" stroke="#2626c8" stroke-width="1.2"/>
<circle cx="892" cy="389" r="2.1" fill="#fff" stroke="#2626c8" stroke-width="1.2"/>
<line x1="894.3" y1="467" x2="894.3" y2="470" stroke="#333" stroke-width="1.1"/>
<path d="M927,467 L927,373.5 L947.9,373.5 L947.9,467" fill="none" stroke="#8a2aaa" stroke-width="1.7"/>
<line x1="937.5" y1="352.6" x2="937.5" y2="393.2" stroke="#8a2aaa" stroke-width="1.2"/>
<line x1="932.2" y1="352.6" x2="942.7" y2="352.6" stroke="#8a2aaa" stroke-width="1.3"/>
<line x1="932.2" y1="393.2" x2="942.7" y2="393.2" stroke="#8a2aaa" stroke-width="1.3"/>
<circle cx="937.6" cy="349" r="2.1" fill="#fff" stroke="#8a2aaa" stroke-width="1.2"/>
<circle cx="933" cy="384" r="2.1" fill="#fff" stroke="#8a2aaa" stroke-width="1.2"/>
<circle cx="940" cy="384" r="2.1" fill="#fff" stroke="#8a2aaa" stroke-width="1.2"/>
<line x1="937.5" y1="467" x2="937.5" y2="470" stroke="#333" stroke-width="1.1"/>
<path d="M970.8,467 L970.8,420.8 L991.2,420.8 L991.2,467" fill="none" stroke="#e82a2a" stroke-width="1.7"/>
<line x1="981" y1="410.6" x2="981" y2="429.8" stroke="#e82a2a" stroke-width="1.2"/>
<line x1="975.8" y1="410.6" x2="986.2" y2="410.6" stroke="#e82a2a" stroke-width="1.3"/>
<line x1="975.8" y1="429.8" x2="986.2" y2="429.8" stroke="#e82a2a" stroke-width="1.3"/>
<circle cx="981" cy="409" r="2.1" fill="#fff" stroke="#e82a2a" stroke-width="1.2"/>
<circle cx="977" cy="425" r="2.1" fill="#fff" stroke="#e82a2a" stroke-width="1.2"/>
<circle cx="983" cy="424" r="2.1" fill="#fff" stroke="#e82a2a" stroke-width="1.2"/>
<line x1="981" y1="467" x2="981" y2="470" stroke="#333" stroke-width="1.1"/>
<line x1="872.5" y1="321" x2="872.5" y2="467" stroke="#444" stroke-width="1.3"/>
<line x1="871.9" y1="467" x2="1003.4" y2="467" stroke="#333" stroke-width="1.3"/>
<line x1="869.9" y1="467" x2="872.5" y2="467" stroke="#444" stroke-width="1.1"/>
<text transform="translate(868.7 470) scale(1 1.08)" font-size="6.8" text-anchor="end" font-weight="bold" fill="#333">0</text>
<line x1="869.9" y1="418.5" x2="872.5" y2="418.5" stroke="#444" stroke-width="1.1"/>
<text transform="translate(868.7 421.5) scale(1 1.08)" font-size="6.8" text-anchor="end" font-weight="bold" fill="#333">20</text>
<line x1="869.9" y1="370.1" x2="872.5" y2="370.1" stroke="#444" stroke-width="1.1"/>
<text transform="translate(868.7 373.1) scale(1 1.08)" font-size="6.8" text-anchor="end" font-weight="bold" fill="#333">40</text>
<line x1="869.9" y1="321.6" x2="872.5" y2="321.6" stroke="#444" stroke-width="1.1"/>
<text transform="translate(868.7 324.6) scale(1 1.08)" font-size="6.8" text-anchor="end" font-weight="bold" fill="#333">60</text>
<circle cx="894.2" cy="475.6" r="3.9" fill="#0000a0" stroke="none" stroke-width="1"/>
<circle cx="937.6" cy="475.6" r="3.9" fill="#b000c0" stroke="none" stroke-width="1"/>
<circle cx="981" cy="475.6" r="3.9" fill="#dd0000" stroke="none" stroke-width="1"/>
<path d="M937.6,341 L937.6,314.7 L981,314.7 L981,397.9" fill="none" stroke="#1a1a1a" stroke-width="1.9" stroke-linejoin="round"/>
<text transform="translate(958.7 310.5) scale(1 1.08)" font-size="11.8" text-anchor="middle" font-weight="bold" fill="#222"><tspan font-style="italic">P</tspan> = 0.0131</text>
<text transform="translate(851 399.4) rotate(-90) translate(0 4.7) scale(1 1.08)" font-size="12.1" text-anchor="middle" font-weight="bold" fill="#222">PKH26<tspan font-size="9.7" dy="-5.4">+</tspan><tspan dy="5.4"> cells (%)</tspan></text>
<path d="M398.5,758.6 L398.5,647 L419.2,647 L419.2,758.6" fill="none" stroke="#2626c8" stroke-width="1.7"/>
<line x1="408.9" y1="642" x2="408.9" y2="648.9" stroke="#2626c8" stroke-width="1.2"/>
<line x1="403.7" y1="642" x2="414.1" y2="642" stroke="#2626c8" stroke-width="1.3"/>
<line x1="403.7" y1="648.9" x2="414.1" y2="648.9" stroke="#2626c8" stroke-width="1.3"/>
<circle cx="409" cy="643" r="2.1" fill="#fff" stroke="#2626c8" stroke-width="1.2"/>
<circle cx="411" cy="645" r="2.1" fill="#fff" stroke="#2626c8" stroke-width="1.2"/>
<circle cx="406" cy="650" r="2.1" fill="#fff" stroke="#2626c8" stroke-width="1.2"/>
<line x1="408.9" y1="758.6" x2="408.9" y2="761.6" stroke="#333" stroke-width="1.1"/>
<path d="M441.6,758.6 L441.6,644.2 L461.9,644.2 L461.9,758.6" fill="none" stroke="#8a2aaa" stroke-width="1.7"/>
<line x1="451.8" y1="639.1" x2="451.8" y2="647.2" stroke="#8a2aaa" stroke-width="1.2"/>
<line x1="446.6" y1="639.1" x2="456.9" y2="639.1" stroke="#8a2aaa" stroke-width="1.3"/>
<line x1="446.6" y1="647.2" x2="456.9" y2="647.2" stroke="#8a2aaa" stroke-width="1.3"/>
<circle cx="451.5" cy="639" r="2.1" fill="#fff" stroke="#8a2aaa" stroke-width="1.2"/>
<circle cx="449" cy="647" r="2.1" fill="#fff" stroke="#8a2aaa" stroke-width="1.2"/>
<circle cx="454" cy="647" r="2.1" fill="#fff" stroke="#8a2aaa" stroke-width="1.2"/>
<line x1="451.8" y1="758.6" x2="451.8" y2="761.6" stroke="#333" stroke-width="1.1"/>
<path d="M484.4,758.6 L484.4,703.8 L505,703.8 L505,758.6" fill="none" stroke="#e82a2a" stroke-width="1.7"/>
<line x1="494.7" y1="682" x2="494.7" y2="724.5" stroke="#e82a2a" stroke-width="1.2"/>
<line x1="489.5" y1="682" x2="499.9" y2="682" stroke="#e82a2a" stroke-width="1.3"/>
<line x1="489.5" y1="724.5" x2="499.9" y2="724.5" stroke="#e82a2a" stroke-width="1.3"/>
<circle cx="494.8" cy="688" r="2.1" fill="#fff" stroke="#e82a2a" stroke-width="1.2"/>
<circle cx="494.8" cy="694" r="2.1" fill="#fff" stroke="#e82a2a" stroke-width="1.2"/>
<circle cx="494.8" cy="727.5" r="2.1" fill="#fff" stroke="#e82a2a" stroke-width="1.2"/>
<line x1="494.7" y1="758.6" x2="494.7" y2="761.6" stroke="#333" stroke-width="1.1"/>
<line x1="387.4" y1="614.4" x2="387.4" y2="758.6" stroke="#444" stroke-width="1.3"/>
<line x1="386.8" y1="758.6" x2="517.5" y2="758.6" stroke="#333" stroke-width="1.3"/>
<line x1="384.8" y1="758.6" x2="387.4" y2="758.6" stroke="#444" stroke-width="1.1"/>
<text transform="translate(383.6 761.6) scale(1 1.08)" font-size="6.8" text-anchor="end" font-weight="bold" fill="#333">0</text>
<line x1="384.8" y1="729.9" x2="387.4" y2="729.9" stroke="#444" stroke-width="1.1"/>
<text transform="translate(383.6 732.9) scale(1 1.08)" font-size="6.8" text-anchor="end" font-weight="bold" fill="#333">10</text>
<line x1="384.8" y1="701.2" x2="387.4" y2="701.2" stroke="#444" stroke-width="1.1"/>
<text transform="translate(383.6 704.2) scale(1 1.08)" font-size="6.8" text-anchor="end" font-weight="bold" fill="#333">20</text>
<line x1="384.8" y1="672.4" x2="387.4" y2="672.4" stroke="#444" stroke-width="1.1"/>
<text transform="translate(383.6 675.4) scale(1 1.08)" font-size="6.8" text-anchor="end" font-weight="bold" fill="#333">30</text>
<line x1="384.8" y1="643.7" x2="387.4" y2="643.7" stroke="#444" stroke-width="1.1"/>
<text transform="translate(383.6 646.7) scale(1 1.08)" font-size="6.8" text-anchor="end" font-weight="bold" fill="#333">40</text>
<line x1="384.8" y1="615" x2="387.4" y2="615" stroke="#444" stroke-width="1.1"/>
<text transform="translate(383.6 618) scale(1 1.08)" font-size="6.8" text-anchor="end" font-weight="bold" fill="#333">50</text>
<circle cx="409" cy="767.8" r="3.9" fill="#0000a0" stroke="none" stroke-width="1"/>
<circle cx="451" cy="767.8" r="3.9" fill="#b000c0" stroke="none" stroke-width="1"/>
<circle cx="495" cy="767.8" r="3.9" fill="#dd0000" stroke="none" stroke-width="1"/>
<path d="M449.7,630 L449.7,602 L496.6,602 L496.6,675.1" fill="none" stroke="#1a1a1a" stroke-width="1.9" stroke-linejoin="round"/>
<text transform="translate(472 594) scale(1 1.08)" font-size="11.8" text-anchor="middle" font-weight="bold" fill="#222"><tspan font-style="italic">P</tspan> = 0.003</text>
<text transform="translate(363.8 684.9) rotate(-90) translate(0 4.7) scale(1 1.08)" font-size="12.1" text-anchor="middle" font-weight="bold" fill="#222">PKH26<tspan font-size="9.7" dy="-5.4">+</tspan><tspan dy="5.4"> cells (%)</tspan></text>
<path d="M880.4,738.3 L880.4,639.9 L901,639.9 L901,738.3" fill="none" stroke="#2626c8" stroke-width="1.7"/>
<line x1="890.7" y1="630.4" x2="890.7" y2="648.9" stroke="#2626c8" stroke-width="1.2"/>
<line x1="885.5" y1="630.4" x2="895.9" y2="630.4" stroke="#2626c8" stroke-width="1.3"/>
<line x1="885.5" y1="648.9" x2="895.9" y2="648.9" stroke="#2626c8" stroke-width="1.3"/>
<circle cx="890.6" cy="629" r="2.1" fill="#fff" stroke="#2626c8" stroke-width="1.2"/>
<circle cx="893" cy="642" r="2.1" fill="#fff" stroke="#2626c8" stroke-width="1.2"/>
<circle cx="888" cy="646" r="2.1" fill="#fff" stroke="#2626c8" stroke-width="1.2"/>
<line x1="890.7" y1="738.3" x2="890.7" y2="741.3" stroke="#333" stroke-width="1.1"/>
<path d="M924,738.3 L924,638.6 L944.6,638.6 L944.6,738.3" fill="none" stroke="#8a2aaa" stroke-width="1.7"/>
<line x1="934.3" y1="616.4" x2="934.3" y2="658.9" stroke="#8a2aaa" stroke-width="1.2"/>
<line x1="929.1" y1="616.4" x2="939.5" y2="616.4" stroke="#8a2aaa" stroke-width="1.3"/>
<line x1="929.1" y1="658.9" x2="939.5" y2="658.9" stroke="#8a2aaa" stroke-width="1.3"/>
<circle cx="934.3" cy="613.5" r="2.1" fill="#fff" stroke="#8a2aaa" stroke-width="1.2"/>
<circle cx="937" cy="648" r="2.1" fill="#fff" stroke="#8a2aaa" stroke-width="1.2"/>
<circle cx="932" cy="652" r="2.1" fill="#fff" stroke="#8a2aaa" stroke-width="1.2"/>
<line x1="934.3" y1="738.3" x2="934.3" y2="741.3" stroke="#333" stroke-width="1.1"/>
<path d="M967.4,738.3 L967.4,681.9 L988,681.9 L988,738.3" fill="none" stroke="#e82a2a" stroke-width="1.7"/>
<line x1="977.7" y1="673.8" x2="977.7" y2="688.7" stroke="#e82a2a" stroke-width="1.2"/>
<line x1="972.5" y1="673.8" x2="982.9" y2="673.8" stroke="#e82a2a" stroke-width="1.3"/>
<line x1="972.5" y1="688.7" x2="982.9" y2="688.7" stroke="#e82a2a" stroke-width="1.3"/>
<circle cx="977.7" cy="673" r="2.1" fill="#fff" stroke="#e82a2a" stroke-width="1.2"/>
<circle cx="981" cy="682" r="2.1" fill="#fff" stroke="#e82a2a" stroke-width="1.2"/>
<circle cx="975" cy="687" r="2.1" fill="#fff" stroke="#e82a2a" stroke-width="1.2"/>
<line x1="977.7" y1="738.3" x2="977.7" y2="741.3" stroke="#333" stroke-width="1.1"/>
<line x1="869" y1="592.2" x2="869" y2="738.3" stroke="#444" stroke-width="1.3"/>
<line x1="868.4" y1="738.3" x2="1000.2" y2="738.3" stroke="#333" stroke-width="1.3"/>
<line x1="866.4" y1="738.3" x2="869" y2="738.3" stroke="#444" stroke-width="1.1"/>
<text transform="translate(865.2 741.3) scale(1 1.08)" font-size="6.8" text-anchor="end" font-weight="bold" fill="#333">0</text>
<line x1="866.4" y1="709.2" x2="869" y2="709.2" stroke="#444" stroke-width="1.1"/>
<text transform="translate(865.2 712.2) scale(1 1.08)" font-size="6.8" text-anchor="end" font-weight="bold" fill="#333">10</text>
<line x1="866.4" y1="680.1" x2="869" y2="680.1" stroke="#444" stroke-width="1.1"/>
<text transform="translate(865.2 683.1) scale(1 1.08)" font-size="6.8" text-anchor="end" font-weight="bold" fill="#333">20</text>
<line x1="866.4" y1="651" x2="869" y2="651" stroke="#444" stroke-width="1.1"/>
<text transform="translate(865.2 654) scale(1 1.08)" font-size="6.8" text-anchor="end" font-weight="bold" fill="#333">30</text>
<line x1="866.4" y1="621.9" x2="869" y2="621.9" stroke="#444" stroke-width="1.1"/>
<text transform="translate(865.2 624.9) scale(1 1.08)" font-size="6.8" text-anchor="end" font-weight="bold" fill="#333">40</text>
<line x1="866.4" y1="592.8" x2="869" y2="592.8" stroke="#444" stroke-width="1.1"/>
<text transform="translate(865.2 595.8) scale(1 1.08)" font-size="6.8" text-anchor="end" font-weight="bold" fill="#333">50</text>
<circle cx="891" cy="747" r="3.9" fill="#0000a0" stroke="none" stroke-width="1"/>
<circle cx="934.3" cy="747" r="3.9" fill="#b000c0" stroke="none" stroke-width="1"/>
<circle cx="977.7" cy="747" r="3.9" fill="#dd0000" stroke="none" stroke-width="1"/>
<path d="M934.6,604.7 L934.6,579 L978.5,579 L978.5,661.6" fill="none" stroke="#1a1a1a" stroke-width="1.9" stroke-linejoin="round"/>
<text transform="translate(954.7 575) scale(1 1.08)" font-size="11.8" text-anchor="middle" font-weight="bold" fill="#222"><tspan font-style="italic">P</tspan> = 0.0216</text>
<text transform="translate(846.3 668) rotate(-90) translate(0 4.7) scale(1 1.08)" font-size="12.1" text-anchor="middle" font-weight="bold" fill="#222">PKH26<tspan font-size="9.7" dy="-5.4">+</tspan><tspan dy="5.4"> cells (%)</tspan></text>
<circle cx="179.4" cy="515.3" r="4" fill="#0000a0" stroke="none" stroke-width="1"/>
<text transform="translate(187.8 521.5) scale(1 1.08)" font-size="14.8" text-anchor="start" font-weight="bold" fill="#222">Meso-CAR T + PKH26-sEVs</text>
<circle cx="399.4" cy="515.3" r="4" fill="#b000c0" stroke="none" stroke-width="1"/>
<text transform="translate(409 521.5) scale(1 1.08)" font-size="14.8" text-anchor="start" font-weight="bold" fill="#222">Meso-CAR T + PKH26-sEVs + IgG</text>
<circle cx="663" cy="515.4" r="4" fill="#dd0000" stroke="none" stroke-width="1"/>
<text transform="translate(675.2 521.5) scale(1 1.08)" font-size="14.8" text-anchor="start" font-weight="bold" fill="#222">Meso-CAR T + PKH26-sEVs + Anti-Meso Ab</text>
<circle cx="185.8" cy="800.2" r="4" fill="#0000a0" stroke="none" stroke-width="1"/>
<text transform="translate(195.8 805.7) scale(1 1.08)" font-size="14.8" text-anchor="start" font-weight="bold" fill="#222">Meso-CAR T + PKH26-sEVs</text>
<circle cx="408.3" cy="800.2" r="4" fill="#b000c0" stroke="none" stroke-width="1"/>
<text transform="translate(418 805.7) scale(1 1.08)" font-size="14.8" text-anchor="start" font-weight="bold" fill="#222">IgG-treated Meso-CAR T + PKH26-sEVs</text>
<circle cx="713.3" cy="800.2" r="4" fill="#dd0000" stroke="none" stroke-width="1"/>
<text transform="translate(722.9 805.7) scale(1 1.08)" font-size="14.8" text-anchor="start" font-weight="bold" fill="#222">Meso-treated Meso-CAR T + PKH26-sEVs</text>
</svg>
</body></html>
